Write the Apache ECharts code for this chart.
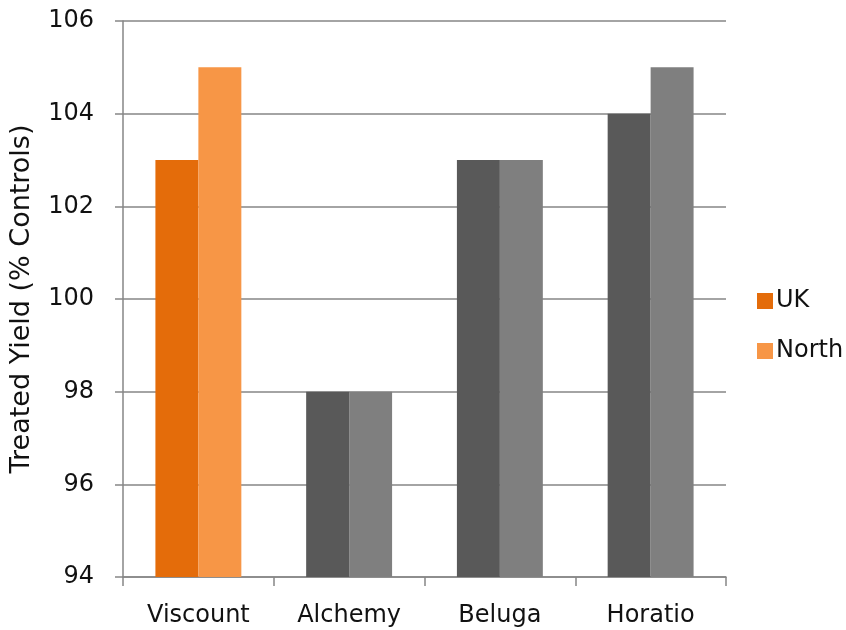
<!DOCTYPE html>
<html>
<head>
<meta charset="utf-8">
<script src="https://cdn.jsdelivr.net/npm/echarts@6/dist/echarts.min.js"></script>
<style>
html,body{margin:0;padding:0;background:#fff;}
#chart{width:846px;height:630px;}
</style>
</head>
<body>
<div id="chart"></div>
<script>
const categories = ['Viscount', 'Alchemy', 'Beluga', 'Horatio'];
const ukValues = [103, 98, 103, 104];
const northValues = [105, 98, 103, 105];
const yTicks = [94, 96, 98, 100, 102, 104, 106];
const ukColors = ['#E46C0A', '#595959', '#595959', '#595959'];
const northColors = ['#F79646', '#7F7F7F', '#7F7F7F', '#7F7F7F'];

const FONT = 'DejaVu Sans';
const chart = echarts.init(document.getElementById('chart'), null, {renderer: 'canvas'});

function mk(vals, cols) {
  return vals.map((v, i) => ({value: v, itemStyle: {color: cols[i]}}));
}

chart.setOption({
  animation: false,
  backgroundColor: '#ffffff',
  textStyle: {fontFamily: FONT},
  grid: {left: 123, right: 120, top: 21, bottom: 53, containLabel: false, outerBoundsMode: 'none'},
  legend: {
    orient: 'vertical',
    left: 752,
    top: 284,
    itemWidth: 16,
    itemHeight: 16,
    itemGap: 26,
    icon: 'rect',
    textStyle: {fontFamily: FONT, fontSize: 24, color: '#111', padding: [0, 0, 0, -2]},
    data: [
      {name: 'UK', itemStyle: {color: '#E46C0A'}},
      {name: 'North', itemStyle: {color: '#F79646'}}
    ]
  },
  xAxis: {
    type: 'category',
    data: categories,
    axisLine: {show: true, lineStyle: {color: '#868686', width: 1.5}},
    axisTick: {show: true, length: 9, lineStyle: {color: '#868686', width: 1.5}},
    axisLabel: {fontFamily: FONT, fontSize: 24, color: '#111', margin: 27}
  },
  yAxis: {
    type: 'value',
    min: yTicks[0],
    max: yTicks[yTicks.length - 1],
    interval: 2,
    name: 'Treated Yield (% Controls)',
    nameLocation: 'middle',
    nameGap: 88,
    nameTextStyle: {fontFamily: FONT, fontSize: 27, color: '#111'},
    axisLine: {show: true, lineStyle: {color: '#868686', width: 1.5}},
    axisTick: {show: true, length: 8, lineStyle: {color: '#868686', width: 1.5}},
    axisLabel: {fontFamily: FONT, fontSize: 24, color: '#111', margin: 29},
    splitLine: {show: true, lineStyle: {color: '#868686', width: 1.5}}
  },
  series: [
    {
      name: 'UK', type: 'bar', data: mk(ukValues, ukColors),
      barGap: '0%', barCategoryGap: '43%',
      itemStyle: {color: '#E46C0A'}
    },
    {
      name: 'North', type: 'bar', data: mk(northValues, northColors),
      barGap: '0%', barCategoryGap: '43%',
      itemStyle: {color: '#F79646'}
    }
  ]
});
</script>
</body>
</html>
